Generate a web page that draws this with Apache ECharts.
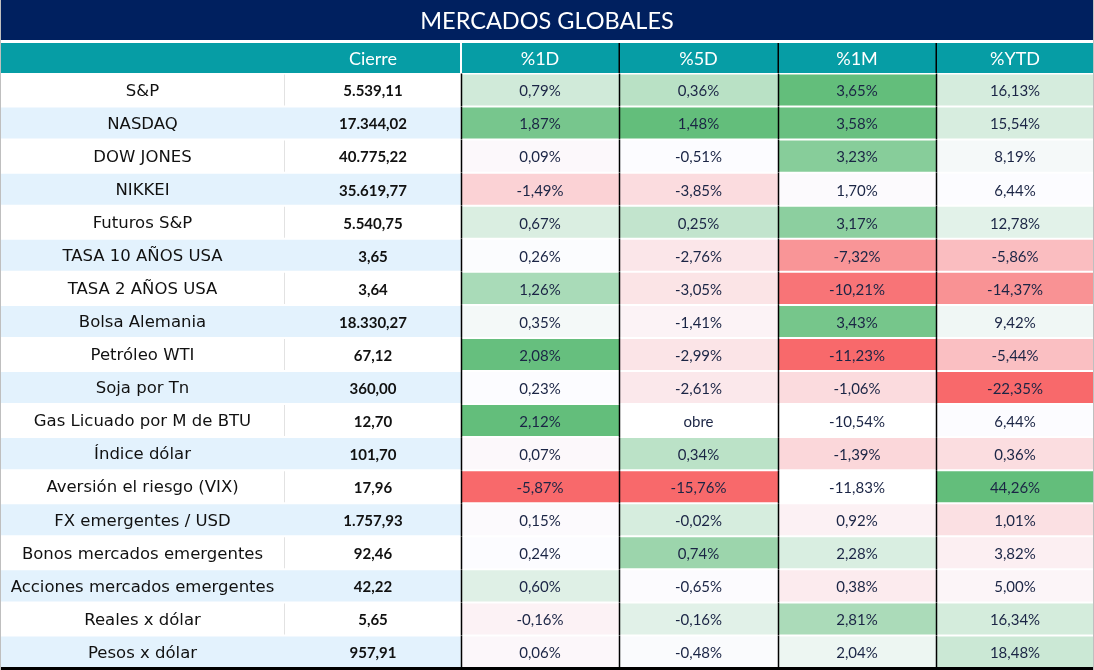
<!DOCTYPE html>
<html>
<head>
<meta charset="utf-8">
<script src="https://cdn.jsdelivr.net/npm/echarts@6/dist/echarts.min.js"></script>
<style>
html,body{margin:0;padding:0;background:#fff;}
#chart{width:1094px;height:670px;}
</style>
</head>
<body>
<div id="chart"></div>
<script>
const title = 'MERCADOS GLOBALES';
const headers = ['', 'Cierre', '%1D', '%5D', '%1M', '%YTD'];
const labels = ['S&P','NASDAQ','DOW JONES','NIKKEI','Futuros S&P','TASA 10 AÑOS USA','TASA 2 AÑOS USA','Bolsa Alemania','Petróleo WTI','Soja por Tn','Gas Licuado por M de BTU','Índice dólar','Aversión el riesgo (VIX)','FX emergentes / USD','Bonos mercados emergentes','Acciones mercados emergentes','Reales x dólar','Pesos x dólar'];
const cierre = [5539.11,17344.02,40775.22,35619.77,5540.75,3.65,3.64,18330.27,67.12,360.00,12.70,101.70,17.96,1757.93,92.46,42.22,5.65,957.91];
const pct1D = [0.79,1.87,0.09,-1.49,0.67,0.26,1.26,0.35,2.08,0.23,2.12,0.07,-5.87,0.15,0.24,0.60,-0.16,0.06];
const pct5D = [0.36,1.48,-0.51,-3.85,0.25,-2.76,-3.05,-1.41,-2.99,-2.61,'obre',0.34,-15.76,-0.02,0.74,-0.65,-0.16,-0.48];
const pct1M = [3.65,3.58,3.23,1.70,3.17,-7.32,-10.21,3.43,-11.23,-1.06,'-10,54%',-1.39,'-11,83%',0.92,2.28,0.38,2.81,2.04];
const pctYTD = [16.13,15.54,8.19,6.44,12.78,-5.86,-14.37,9.42,-5.44,-22.35,6.44,0.36,44.26,1.01,3.82,5.00,16.34,18.48];

// layout constants
const W = 1094;
const colEdges = [0,285,461,619,778,936,1094];
const pctCols = [pct1D, pct5D, pct1M, pctYTD];

const NAVY = '#00205F', TEAL = '#069DA5', LIGHTBLUE = '#E3F2FD';
const GREEN = [99,190,123], MIDC = [252,252,255], RED = [248,105,107];

function lerp(a,b,t){return a.map((v,i)=>Math.round(v+(b[i]-v)*t));}
function rgb(c){return 'rgb('+c.join(',')+')';}
function median(arr){const s=arr.slice().sort((a,b)=>a-b);const n=s.length;return n%2?s[(n-1)/2]:(s[n/2-1]+s[n/2])/2;}
const scales = pctCols.map(col=>{
  const nums = col.filter(v=>typeof v==='number');
  return {min:Math.min(...nums), max:Math.max(...nums), mid:median(nums)};
});
function cellColor(ci, v){
  if (typeof v !== 'number') return '#FFFFFF';
  const s = scales[ci];
  if (v >= s.mid) { const t = s.max===s.mid?0:(v-s.mid)/(s.max-s.mid); return rgb(lerp(MIDC,GREEN,Math.min(1,t))); }
  const t = s.min===s.mid?0:(s.mid-v)/(s.mid-s.min); return rgb(lerp(MIDC,RED,Math.min(1,t)));
}
function fmtPct(v){ return typeof v==='number' ? v.toFixed(2).replace('.',',')+'%' : v; }
function fmtNum(v){
  const parts = v.toFixed(2).split('.');
  const ip = parts[0].replace(/\B(?=(\d{3})+(?!\d))/g,'.');
  return ip+','+parts[1];
}

const cells = [];
for (let r=0;r<labels.length;r++) for (let c=0;c<6;c++) cells.push([c, r]);

const LABEL_FONT = '"DejaVu Sans", sans-serif';
const NUM_FONT = 'Lato, sans-serif';

function renderItem(params, api){
  const c = api.value(0), r = api.value(1);
  const rowH = api.size([0,1])[1];
  const cy = api.coord([0, r])[1];
  const x0 = api.coord([colEdges[c], r])[0];
  const x1 = api.coord([colEdges[c+1], r])[0];
  const top = cy - rowH/2 + 0.5, h = rowH - 2;
  const children = [];
  let fill, text, font, color, weight = 'normal', fs;
  if (c === 0) { fill = r%2 ? LIGHTBLUE : '#FFFFFF'; text = labels[r]; font = LABEL_FONT; color = '#111'; fs = 16.5; }
  else if (c === 1) { fill = r%2 ? LIGHTBLUE : '#FFFFFF'; text = fmtNum(cierre[r]); font = NUM_FONT; color = '#111'; weight = 'bold'; fs = 15; }
  else { const v = pctCols[c-2][r]; fill = cellColor(c-2, v); text = fmtPct(v); font = NUM_FONT; color = '#1B2545'; fs = 15; }
  children.push({type:'rect', shape:{x:x0, y:top-1, width:x1-x0, height:rowH}, style:{fill:'#FFFFFF'}});
  children.push({type:'rect', shape:{x:x0, y:top, width:x1-x0, height:h}, style:{fill:fill}});
  children.push({type:'text', x:(x0+x1)/2, y:cy+1, style:{text:text, fill:color, font: weight+' '+fs+'px '+font, align:'center', verticalAlign:'middle'}});
  if (c === 0 && r%2===0) {
    children.push({type:'line', shape:{x1:x1, y1:top, x2:x1, y2:top+h}, style:{stroke:'#D9D9D9', lineWidth:1.5}});
  }
  if (c >= 2) {
    children.push({type:'line', shape:{x1:x0+0.5, y1:top-1, x2:x0+0.5, y2:top+h+1}, style:{stroke:'#000', lineWidth:1.5}});
  }
  return {type:'group', children:children};
}

const graphics = [
  {type:'rect', left:0, top:0, shape:{width:W, height:40}, style:{fill:NAVY}},
  {type:'text', x:W/2, y:21, style:{text:title, fill:'#FFFFFF', font:'23.5px Lato, sans-serif', align:'center', verticalAlign:'middle'}},
  {type:'rect', left:0, top:43, shape:{width:W, height:30}, style:{fill:TEAL}},
];
for (let c=1;c<6;c++){
  graphics.push({type:'text', x:(colEdges[c]+colEdges[c+1])/2, y:59, style:{text:headers[c], fill:'#FFFFFF', font:'18px Lato, sans-serif', align:'center', verticalAlign:'middle'}});
}
graphics.push({type:'rect', left:colEdges[2]-1, top:43, shape:{width:2, height:30}, style:{fill:'#FFFFFF'}});
for (let c=3;c<6;c++){
  graphics.push({type:'rect', left:colEdges[c]-0.5, top:43, shape:{width:1.5, height:30}, style:{fill:'#000'}});
}
graphics.push({type:'rect', left:0, top:667, z:100, shape:{width:W, height:3}, style:{fill:'#000'}});
graphics.push({type:'rect', left:0, top:0, z:100, shape:{width:1, height:670}, style:{fill:'#BFBFBF'}});
graphics.push({type:'rect', left:W-1, top:0, z:100, shape:{width:1, height:670}, style:{fill:'#BFBFBF'}});

const chart = echarts.init(document.getElementById('chart'), null, {renderer:'canvas'});
chart.setOption({
  animation:false,
  grid:{left:0, right:0, top:74, bottom:1},
  xAxis:{type:'value', min:0, max:W, show:false},
  yAxis:{type:'category', data:labels, inverse:true, show:false},
  series:[{type:'custom', renderItem:renderItem, data:cells, encode:{x:0,y:1}, z:2}],
  graphic:graphics
});
</script>
</body>
</html>
